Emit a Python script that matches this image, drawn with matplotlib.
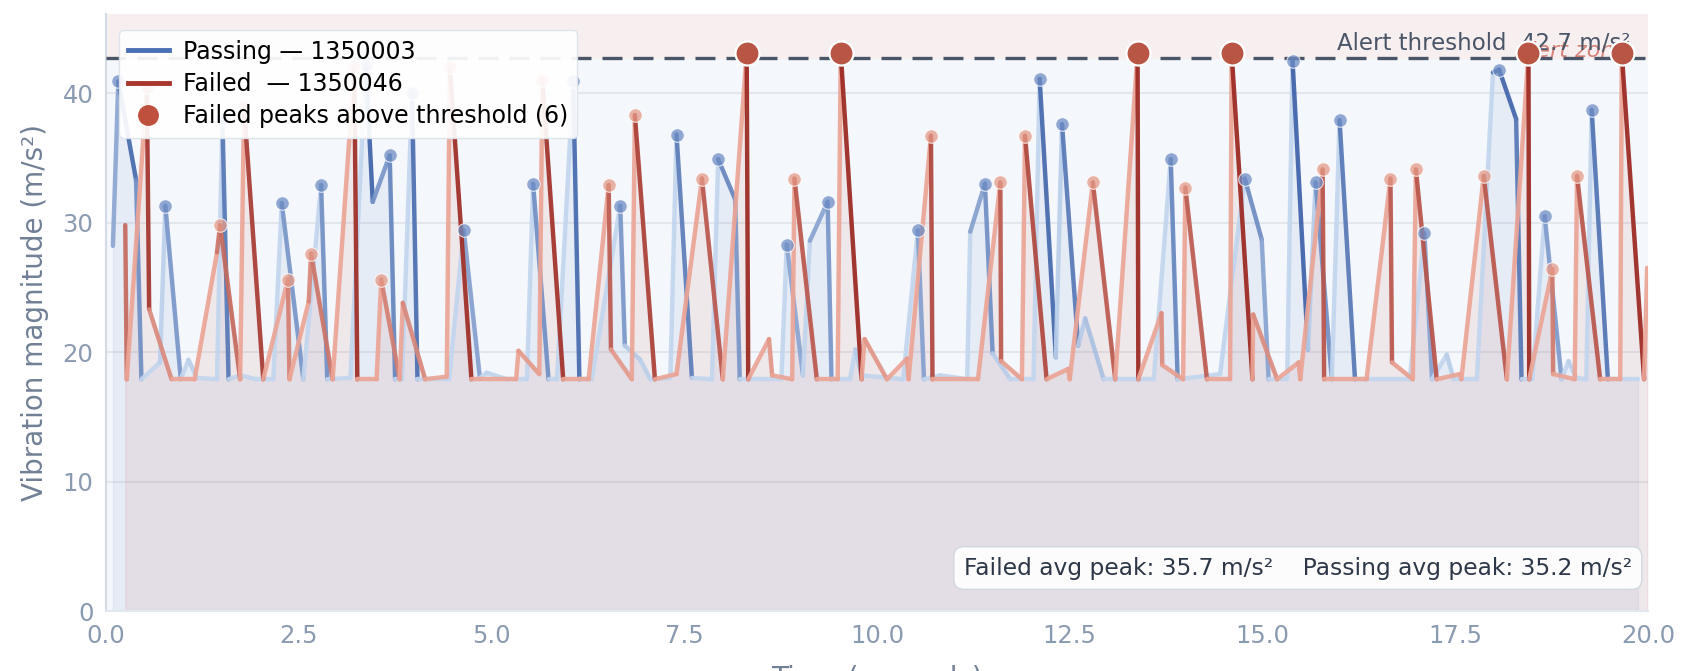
import numpy as np
import matplotlib
matplotlib.use("Agg")
import matplotlib.pyplot as plt
from matplotlib.collections import LineCollection
from matplotlib.colors import LinearSegmentedColormap
from matplotlib.lines import Line2D

# passing unit 1350003 (time s, vibration m/s^2)
pass_t = [0.09, 0.16, 0.39, 0.46, 0.70, 0.77, 0.97, 1.07, 1.18, 1.44,
          1.51, 1.59, 1.74, 1.95, 2.17, 2.28, 2.56, 2.79, 2.87, 3.17,
          3.37, 3.46, 3.68, 3.75, 3.84, 3.97, 4.04, 4.45, 4.64, 4.85,
          4.94, 5.20, 5.46, 5.54, 5.74, 5.85, 6.06, 6.14, 6.30, 6.67,
          6.73, 6.93, 7.06, 7.32, 7.40, 7.60, 7.86, 7.94, 8.16, 8.22,
          8.76, 8.83, 9.04, 9.13, 9.36, 9.41, 9.65, 9.72, 9.80, 10.34,
          10.53, 10.61, 10.82, 11.17, 11.21, 11.40, 11.50, 11.73, 12.03, 12.11,
          12.32, 12.40, 12.61, 12.70, 12.94, 13.59, 13.81, 13.90, 14.45, 14.77,
          14.99, 15.08, 15.32, 15.39, 15.59, 15.69, 15.90, 16.00, 16.20, 16.91,
          17.10, 17.20, 17.39, 17.48, 17.78, 17.99, 18.07, 18.29, 18.36, 18.50,
          18.66, 18.88, 18.97, 19.07, 19.20, 19.27, 19.48, 19.87]
pass_v = [28.2, 40.9, 33.3, 17.9, 19.2, 31.3, 17.9, 19.4, 18.0, 17.9,
          38.0, 17.9, 18.2, 17.9, 17.9, 31.5, 17.9, 32.9, 17.9, 18.0,
          42.2, 31.6, 35.2, 17.9, 17.9, 40.0, 17.9, 17.9, 29.4, 18.0,
          18.4, 17.9, 17.9, 33.0, 17.9, 17.9, 40.9, 17.9, 17.9, 31.3,
          20.5, 19.4, 17.9, 18.0, 36.8, 18.0, 17.9, 34.9, 31.8, 17.9,
          17.9, 28.3, 18.2, 28.6, 31.6, 17.9, 17.9, 20.2, 18.2, 17.9,
          29.4, 17.9, 18.2, 17.9, 29.3, 33.0, 19.9, 17.9, 17.9, 41.1,
          19.6, 37.6, 20.5, 22.6, 17.9, 17.9, 34.9, 17.9, 18.3, 33.4,
          28.7, 17.9, 17.9, 42.5, 20.2, 33.1, 17.9, 37.9, 17.9, 17.9,
          29.2, 17.9, 19.8, 17.9, 17.9, 41.6, 41.8, 38.0, 17.9, 17.9,
          30.5, 17.9, 19.3, 18.0, 17.9, 38.7, 17.9, 17.9]

# failed unit 1350046
fail_t = [0.25, 0.27, 0.53, 0.56, 0.85, 1.15, 1.44, 1.48, 1.74, 1.79,
          2.04, 2.36, 2.38, 2.63, 2.66, 2.94, 3.22, 3.26, 3.51, 3.57,
          3.81, 3.85, 4.14, 4.42, 4.46, 4.74, 5.32, 5.35, 5.62, 5.66,
          5.93, 6.26, 6.52, 6.55, 6.82, 6.86, 7.12, 7.40, 7.73, 8.00,
          8.31, 8.33, 8.60, 8.64, 8.90, 8.93, 9.22, 9.49, 9.53, 9.80,
          9.84, 10.13, 10.39, 10.41, 10.70, 10.72, 11.31, 11.60, 11.61, 11.88,
          11.92, 12.20, 12.48, 12.50, 12.80, 13.09, 13.38, 13.39, 13.69, 13.70,
          13.97, 14.00, 14.28, 14.58, 14.60, 14.87, 14.88, 15.19, 15.47, 15.49,
          15.78, 15.80, 16.35, 16.66, 16.68, 16.95, 16.99, 17.26, 17.56, 17.58,
          17.87, 18.17, 18.45, 18.46, 18.76, 18.77, 19.05, 19.08, 19.38, 19.64,
          19.66, 19.95, 19.99]
fail_v = [29.8, 17.9, 40.5, 23.3, 17.9, 17.9, 27.7, 29.8, 17.9, 39.0,
          17.9, 25.6, 17.9, 23.9, 27.6, 17.9, 42.0, 17.9, 17.9, 25.6,
          17.9, 23.8, 17.9, 18.1, 42.0, 17.9, 17.9, 20.1, 18.3, 41.0,
          17.9, 17.9, 32.9, 20.2, 17.9, 38.3, 17.9, 18.3, 33.4, 17.9,
          43.1, 17.9, 21.0, 18.2, 17.9, 33.4, 17.9, 17.9, 43.1, 17.9,
          21.0, 17.9, 19.5, 17.9, 36.7, 17.9, 17.9, 33.1, 19.3, 17.9,
          36.7, 17.9, 18.7, 17.9, 33.1, 17.9, 43.1, 17.9, 23.0, 19.0,
          17.9, 32.7, 17.9, 17.9, 43.1, 17.9, 22.9, 17.9, 19.2, 17.9,
          34.1, 17.9, 17.9, 33.4, 19.2, 17.9, 34.1, 17.9, 18.3, 17.9,
          33.6, 17.9, 43.1, 17.9, 26.4, 18.3, 17.9, 33.6, 17.9, 17.9,
          43.1, 17.9, 26.5]

threshold = 42.7
fail_avg_peak = 35.7
pass_avg_peak = 35.2

pass_t, pass_v = np.array(pass_t), np.array(pass_v)
fail_t, fail_v = np.array(fail_t), np.array(fail_v)

blue_cmap = LinearSegmentedColormap.from_list("pb", ["#c3d6ee", "#3b60a8"])
red_cmap = LinearSegmentedColormap.from_list("fr", ["#eba596", "#9b2720"])
norm = plt.Normalize(18, 43)


def colored_line(ax, t, v, cmap, z):
    # each segment coloured by the value it starts from
    pts = np.column_stack([t, v]).reshape(-1, 1, 2)
    segs = np.concatenate([pts[:-1], pts[1:]], axis=1)
    lc = LineCollection(segs, cmap=cmap, norm=norm, linewidth=3.2,
                        alpha=0.92, capstyle="round", zorder=z)
    lc.set_array(v[:-1])
    ax.add_collection(lc)


def local_peaks(v, floor=24):
    return np.array([i for i in range(1, len(v) - 1)
                     if v[i] > v[i - 1] and v[i] >= v[i + 1] and v[i] > floor])


fig = plt.figure(figsize=(16.93, 6.71), dpi=100)
ax = fig.add_axes([0.0626, 0.0894, 0.9108, 0.8896])
ax.set_facecolor("#f4f7fc")
ax.set_xlim(0, 20)
ax.set_ylim(0, 46.1)

ax.axhspan(threshold, 46.1, color="#f7efef", zorder=0)
ax.set_yticks([0, 10, 20, 30, 40])
ax.grid(axis="y", color="#e2e7ee", linewidth=1.5, zorder=0.5)
ax.set_axisbelow(True)

ax.fill_between(pass_t, 0, pass_v, color="#4a72b8", alpha=0.08, zorder=1)
ax.fill_between(fail_t, 0, fail_v, color="#c0392b", alpha=0.08, zorder=1)

colored_line(ax, pass_t, pass_v, blue_cmap, 2)
colored_line(ax, fail_t, fail_v, red_cmap, 3)

ax.axhline(threshold, color="#4a5568", linewidth=2.4, linestyle=(0, (6, 3.3)), zorder=3.5)

pp = local_peaks(pass_v)
ax.scatter(pass_t[pp], pass_v[pp], s=95, color="#6d8cc4", alpha=0.75,
           edgecolor="white", linewidth=0.8, zorder=4)
fp = local_peaks(fail_v)
small = fp[fail_v[fp] <= threshold]
big = fp[fail_v[fp] > threshold]
ax.scatter(fail_t[small], fail_v[small], s=95, color="#e59a88", alpha=0.75,
           edgecolor="white", linewidth=0.8, zorder=4)

ax.text(18.28, 42.8, "Alert zone", fontsize=16, style="italic", color="#c0392b",
        alpha=0.6, ha="left", va="baseline", zorder=3.6)
ax.text(19.77, 43.3, "Alert threshold  42.7 m/s²", fontsize=16.5, color="#4a5568",
        ha="right", va="baseline", zorder=3.7)

ax.scatter(fail_t[big], fail_v[big], s=300, color="#b95544", edgecolor="white",
           linewidth=1.6, zorder=5)

for sp in ["top", "right"]:
    ax.spines[sp].set_visible(False)
ax.spines["left"].set_color("#d3dbe6")
ax.spines["bottom"].set_color("#e2e8f0")
ax.spines["left"].set_linewidth(1.5)
ax.spines["bottom"].set_linewidth(1.5)
ax.tick_params(length=0, labelsize=17.5, labelcolor="#8a9ab0", pad=9)
ax.set_xticks([0, 2.5, 5, 7.5, 10, 12.5, 15, 17.5, 20])
ax.set_xticklabels(["0.0", "2.5", "5.0", "7.5", "10.0", "12.5", "15.0", "17.5", "20.0"])

ax.set_ylabel("Vibration magnitude (m/s²)", fontsize=20, color="#718096", labelpad=10)
ax.set_xlabel("Time (seconds)", fontsize=20, color="#718096", labelpad=12)

handles = [
    Line2D([], [], color="#4a70b8", linewidth=3.5),
    Line2D([], [], color="#a8362d", linewidth=3.5),
    Line2D([], [], linestyle="none", marker="o", markersize=14, color="#c0503e"),
]
labels = ["Passing — 1350003", "Failed  — 1350046",
          f"Failed peaks above threshold ({len(big)})"]
ax.legend(handles, labels, loc="upper left", bbox_to_anchor=(0.0084, 0.973),
          borderaxespad=0, fontsize=17, framealpha=0.92, edgecolor="#dde3ea",
          handlelength=1.7, handletextpad=0.6, labelspacing=0.35)

ax.text(0.9896, 0.072,
        f"Failed avg peak: {fail_avg_peak} m/s²    Passing avg peak: {pass_avg_peak} m/s²",
        transform=ax.transAxes, ha="right", va="center", fontsize=16.8, color="#2d3748",
        zorder=6, bbox=dict(boxstyle="round,pad=0.42", fc="white", ec="#cfd6df", alpha=0.92))

fig.savefig("out.png", dpi=100)
